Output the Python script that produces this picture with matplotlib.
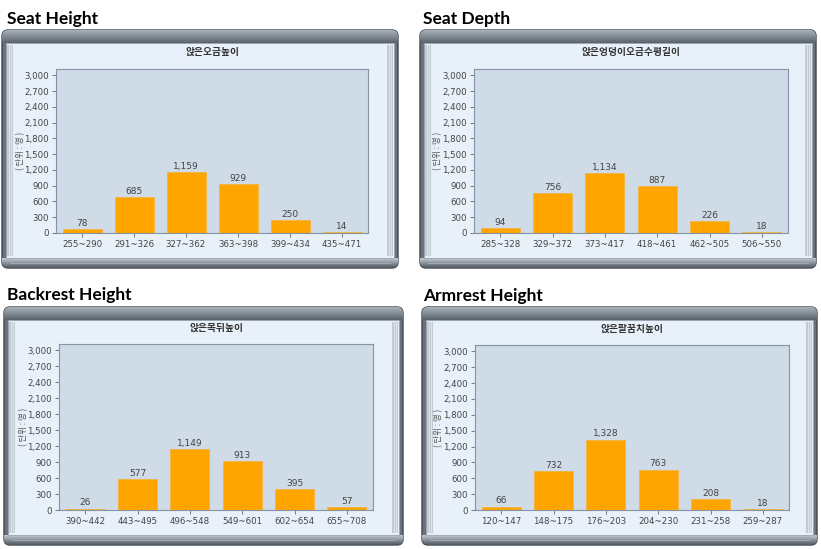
import numpy as np
import matplotlib
matplotlib.use("Agg")
import matplotlib.pyplot as plt
from matplotlib.patches import FancyBboxPatch, Rectangle
from matplotlib.colors import LinearSegmentedColormap
from matplotlib.ticker import FuncFormatter

# ---- data -------------------------------------------------------------
seat_height_bins = ["255~290", "291~326", "327~362", "363~398", "399~434", "435~471"]
seat_height_vals = [78, 685, 1159, 929, 250, 14]

seat_depth_bins = ["285~328", "329~372", "373~417", "418~461", "462~505", "506~550"]
seat_depth_vals = [94, 756, 1134, 887, 226, 18]

backrest_bins = ["390~442", "443~495", "496~548", "549~601", "602~654", "655~708"]
backrest_vals = [26, 577, 1149, 913, 395, 57]

armrest_bins = ["120~147", "148~175", "176~203", "204~230", "231~258", "259~287"]
armrest_vals = [66, 732, 1328, 763, 208, 18]

section_titles = ["Seat Height", "Seat Depth", "Backrest Height", "Armrest Height"]
chart_titles = ["앉은오금높이", "앉은엉덩이오금수평길이", "앉은목뒤높이", "앉은팔꿈치높이"]
y_ticks = [0, 300, 600, 900, 1200, 1500, 1800, 2100, 2400, 2700, 3000]
y_label = "( 단위 : 명 )"

W, H = 821, 549
KR = ["Noto Sans CJK KR", "DejaVu Sans"]

BAR = "#ffa500"
AX_BG = "#cfdbe6"
PANEL_BG = "#e8f0f9"
TXT = "#444444"

fig = plt.figure(figsize=(W / 100, H / 100), dpi=100)
bg = fig.add_axes([0, 0, 1, 1], zorder=0)
bg.set_xlim(0, W)
bg.set_ylim(H, 0)
bg.axis("off")

top_cmap = LinearSegmentedColormap.from_list("top", ["#a9b1ba", "#828a94", "#5a626c"])
bot_cmap = LinearSegmentedColormap.from_list("bot", ["#c4cad1", "#8a929c", "#4f5761"])


def px_rect(x0, y0, x1, y1):
    return [x0 / W, 1 - y1 / H, (x1 - x0) / W, (y1 - y0) / H]


def draw_frame(x0, y0, x1, y1):
    outer = FancyBboxPatch((x0, y0), x1 - x0, y1 - y0,
                           boxstyle="round,pad=0,rounding_size=6",
                           fc="#6a737d", ec="#3f464e", lw=1.0, zorder=1)
    bg.add_patch(outer)
    grad = np.linspace(0, 1, 64).reshape(-1, 1)
    im = bg.imshow(grad, cmap=top_cmap, extent=(x0, x1, y0 + 13, y0),
                   aspect="auto", zorder=2)
    im.set_clip_path(outer)
    im2 = bg.imshow(grad, cmap=bot_cmap, extent=(x0, x1, y1, y1 - 10),
                    aspect="auto", zorder=2)
    im2.set_clip_path(outer)
    bg.set_xlim(0, W)
    bg.set_ylim(H, 0)
    bg.plot([x0 + 8, x1 - 8], [y1 - 5, y1 - 5], color="#a8b0b8", lw=0.6, zorder=3)
    # inner light area
    bg.add_patch(Rectangle((x0 + 4, y0 + 13), x1 - x0 - 8, y1 - y0 - 23,
                           fc=PANEL_BG, ec="#9aa4ae", lw=0.6, zorder=3))
    # side stripes
    for sx in (x0 + 5, x1 - 11):
        bg.add_patch(Rectangle((sx, y0 + 15), 6, y1 - y0 - 27,
                               fc="#c3cad2", ec="none", zorder=4))
        for lx in (sx + 1.5, sx + 4):
            bg.plot([lx, lx], [y0 + 15, y1 - 12], color="#e4e9ee", lw=0.6, zorder=5)


def draw_chart(frame, axbox, sec_xy, title, ylab_x, bins, vals):
    x0, y0, x1, y1 = frame
    draw_frame(x0, y0, x1, y1)
    bg.text(sec_xy[0], sec_xy[1], title[0], fontsize=12.5, fontweight="bold",
            family="Lato", color="black", va="center", ha="left", zorder=6)
    ax = fig.add_axes(px_rect(*axbox), zorder=5)
    ax.set_facecolor(AX_BG)
    xs = np.arange(len(bins))
    ax.bar(xs, vals, width=0.75, color=BAR, edgecolor="#f2b440", linewidth=0.6)
    for x, v in zip(xs, vals):
        ax.text(x, v + 25, f"{v:,}", ha="center", va="bottom", fontsize=6.5, color="#444444")
    ax.set_xlim(-0.5, len(bins) - 0.5)
    ax.set_ylim(0, 3120)
    ax.set_yticks(y_ticks)
    ax.yaxis.set_major_formatter(FuncFormatter(lambda v, p: f"{int(v):,}"))
    ax.set_xticks(xs)
    ax.set_xticklabels(bins)
    ax.tick_params(labelsize=6.2, colors="#666666", labelcolor=TXT, length=3, width=0.6, pad=2)
    for s in ax.spines.values():
        s.set_color("#8594a4")
        s.set_linewidth(0.8)
    ax_cx = (axbox[0] + axbox[2]) / 2
    bg.text(ax_cx, title[2], title[1], fontsize=7, fontweight="bold", family=KR,
            color="#333333", ha="center", va="center", zorder=6)
    bg.text(ylab_x, (axbox[1] + axbox[3]) / 2, y_label, fontsize=6, family=KR,
            color="#555555", rotation=90, ha="center", va="center", zorder=6)


draw_chart((2, 30, 398, 268), (56, 69, 368, 233), (7, 19),
           (section_titles[0], chart_titles[0], 52), 21,
           seat_height_bins, seat_height_vals)
draw_chart((420, 30, 816, 268), (474, 69, 788, 233), (423, 19),
           (section_titles[1], chart_titles[1], 52), 438,
           seat_depth_bins, seat_depth_vals)
draw_chart((4, 307, 403, 545), (59, 344, 373, 510), (7, 295),
           (section_titles[2], chart_titles[2], 328), 24,
           backrest_bins, backrest_vals)
draw_chart((422, 307, 817, 545), (475, 345, 789, 510), (423, 296),
           (section_titles[3], chart_titles[3], 329), 439,
           armrest_bins, armrest_vals)

fig.savefig("out.png", dpi=100, facecolor="white")
